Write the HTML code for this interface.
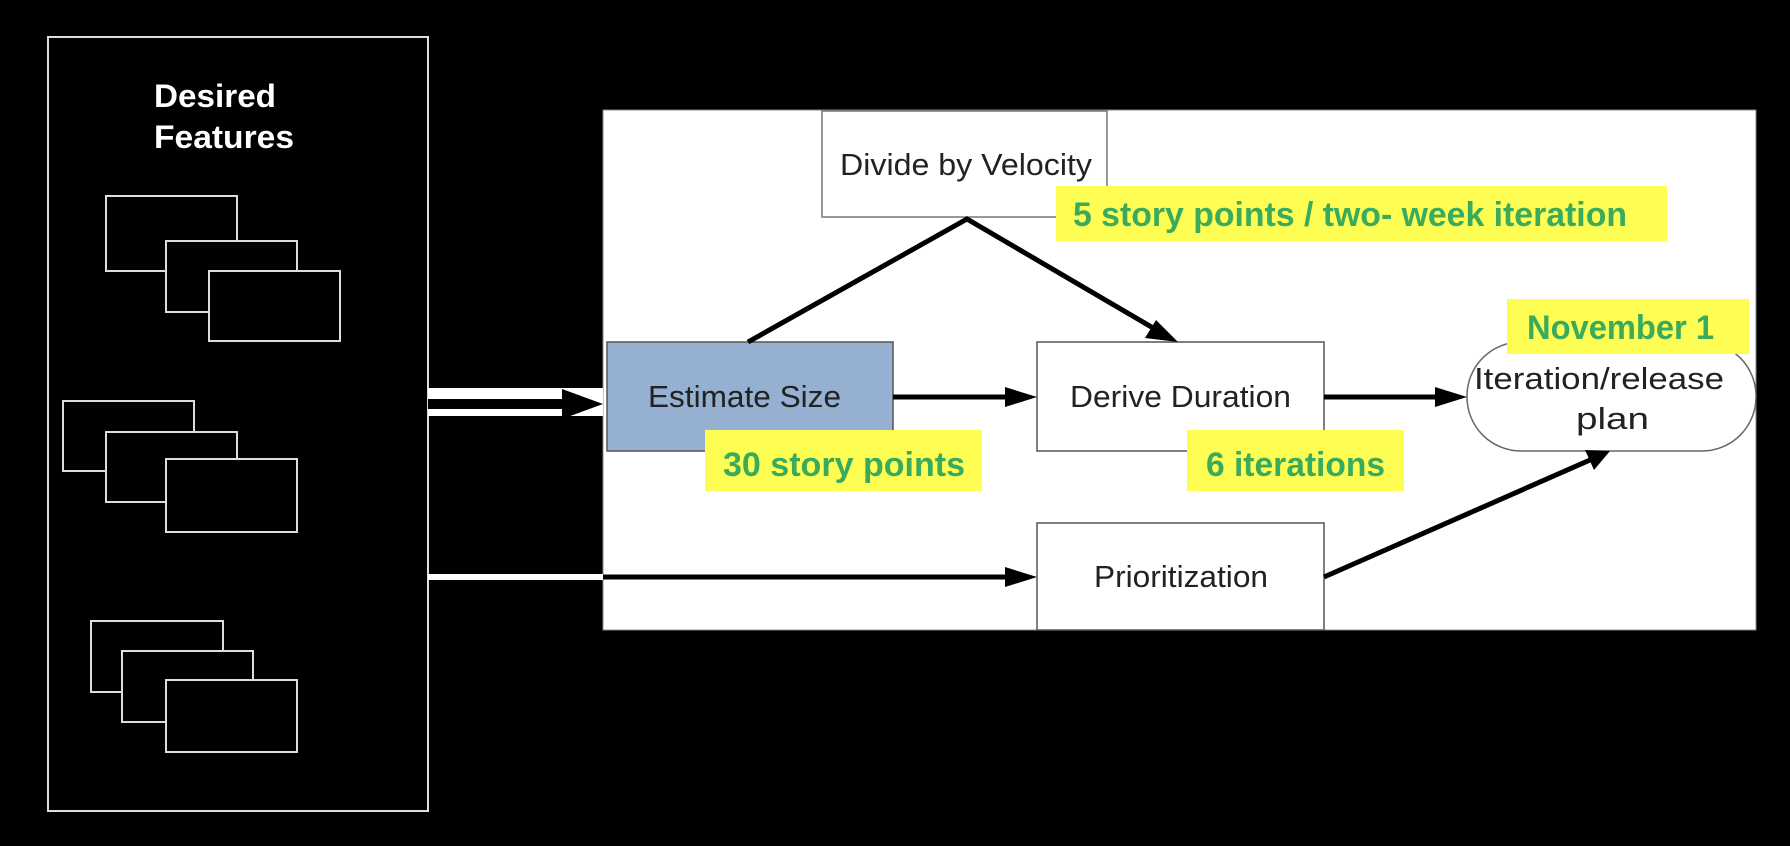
<!DOCTYPE html>
<html><head><meta charset="utf-8"><style>
html,body{margin:0;padding:0;background:#000;}
svg{display:block;}
text{font-family:"Liberation Sans",Arial,sans-serif;}
</style></head><body>
<svg width="1790" height="846" viewBox="0 0 1790 846" xmlns="http://www.w3.org/2000/svg">
<rect x="0" y="0" width="1790" height="846" fill="#000"/>
<rect x="48" y="37" width="380" height="774" fill="#000" stroke="#ddd" stroke-width="2"/>
<text x="154" y="107" fill="#fff" font-size="32" font-weight="bold" textLength="122" lengthAdjust="spacingAndGlyphs">Desired</text>
<text x="154" y="148" fill="#fff" font-size="32" font-weight="bold" textLength="140" lengthAdjust="spacingAndGlyphs">Features</text>
<g fill="#000" stroke="#ddd" stroke-width="2">
<rect x="106" y="196" width="131" height="75"/>
<rect x="166" y="241" width="131" height="71"/>
<rect x="209" y="271" width="131" height="70"/>
<rect x="63" y="401" width="131" height="70"/>
<rect x="106" y="432" width="131" height="70"/>
<rect x="166" y="459" width="131" height="73"/>
<rect x="91" y="621" width="132" height="71"/>
<rect x="122" y="651" width="131" height="71"/>
<rect x="166" y="680" width="131" height="72"/>
</g>
<rect x="603" y="110" width="1153" height="520" fill="#fff" stroke="#888" stroke-width="1"/>
<rect x="428" y="388" width="175" height="28" fill="#fff"/>
<rect x="428" y="399" width="140" height="10" fill="#000"/>
<polygon points="562,389 603,404 562,419" fill="#000"/>
<rect x="428" y="574" width="175" height="6" fill="#fff"/>
<line x1="603" y1="577" x2="1010" y2="577" stroke="#000" stroke-width="5"/>
<polygon points="1005,567 1037,577 1005,587" fill="#000"/>
<rect x="822" y="111" width="285" height="106" fill="#fff" stroke="#777" stroke-width="1.5"/>
<text x="840" y="175" font-size="31" fill="#222" textLength="252" lengthAdjust="spacingAndGlyphs">Divide by Velocity</text>
<rect x="607" y="342" width="286" height="109" fill="#95b0d0" stroke="#555" stroke-width="1.5"/>
<text x="648" y="407" font-size="31" fill="#222" textLength="193" lengthAdjust="spacingAndGlyphs">Estimate Size</text>
<rect x="1037" y="342" width="287" height="109" fill="#fff" stroke="#555" stroke-width="1.5"/>
<text x="1070" y="407" font-size="31" fill="#222" textLength="221" lengthAdjust="spacingAndGlyphs">Derive Duration</text>
<rect x="1037" y="523" width="287" height="107" fill="#fff" stroke="#555" stroke-width="1.5"/>
<text x="1094" y="587" font-size="31" fill="#222" textLength="174" lengthAdjust="spacingAndGlyphs">Prioritization</text>
<rect x="1467" y="342" width="289" height="109" rx="54" ry="54" fill="#fff" stroke="#666" stroke-width="1.5"/>
<text x="1474" y="389" font-size="31" fill="#222" textLength="250" lengthAdjust="spacingAndGlyphs">Iteration/release</text>
<text x="1576" y="429" font-size="31" fill="#222" textLength="73" lengthAdjust="spacingAndGlyphs">plan</text>
<g stroke="#000" stroke-width="5" fill="none">
<line x1="893" y1="397" x2="1010" y2="397"/>
<line x1="1324" y1="397" x2="1440" y2="397"/>
<polyline points="748,342 967,219 1160,332"/>
<line x1="1324" y1="577" x2="1590" y2="460"/>
</g>
<g fill="#000">
<polygon points="1005,387 1037,397 1005,407"/>
<polygon points="1435,387 1467,397 1435,407"/>
<polygon points="1178,342 1145,338 1156,320"/>
<polygon points="1610,451 1594,470 1585,450"/>
</g>
<rect x="1056" y="186" width="611" height="55" fill="#fdfd54"/>
<text x="1073" y="226" font-size="34" font-weight="bold" fill="#3aaa5c" textLength="554" lengthAdjust="spacingAndGlyphs">5 story points / two- week iteration</text>
<rect x="705" y="430" width="277" height="61" fill="#fdfd54"/>
<text x="723" y="476" font-size="34" font-weight="bold" fill="#3aaa5c" textLength="242" lengthAdjust="spacingAndGlyphs">30 story points</text>
<rect x="1187" y="430" width="217" height="61" fill="#fdfd54"/>
<text x="1206" y="476" font-size="34" font-weight="bold" fill="#3aaa5c" textLength="179" lengthAdjust="spacingAndGlyphs">6 iterations</text>
<rect x="1507" y="299" width="242" height="55" fill="#fdfd54"/>
<text x="1527" y="339" font-size="34" font-weight="bold" fill="#3aaa5c" textLength="187" lengthAdjust="spacingAndGlyphs">November 1</text>
</svg>
</body></html>
